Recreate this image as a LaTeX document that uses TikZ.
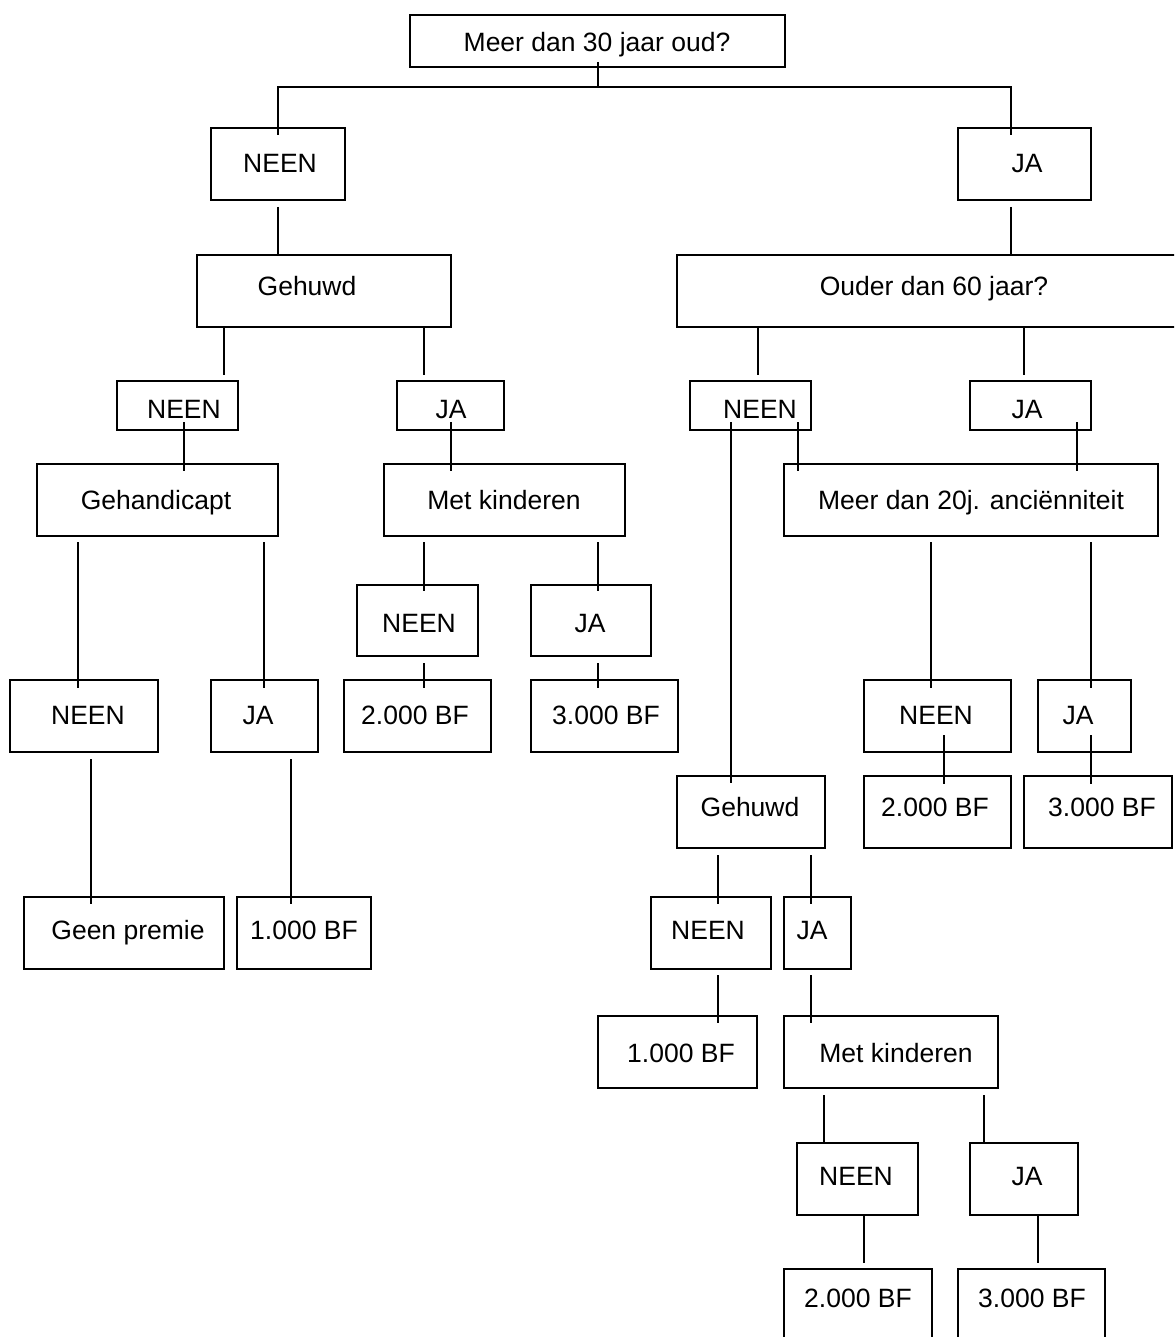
\documentclass[tikz,border=0pt]{standalone}
\usepackage{fontspec}
\setmainfont{Liberation Sans}
\usetikzlibrary{calc}
\tikzset{
  box/.style={draw=black, line width=2pt, rectangle, inner sep=0pt, outer sep=0pt},
  lbl/.style={anchor=base, inner sep=0pt, text=black, font=\fontsize{26.5}{30}\selectfont},
  conn/.style={draw=black, line width=1.8pt}
}
% box: name, x1, y1, x2, y2, text x, text y (visual middle), text
\newcommand\bx[8]{%
  \node[box, minimum width={#4-#2}, minimum height={#5-#3}] (#1) at ({(#2+#4)/2},{(#3+#5)/2}) {};
  \node[lbl] (#1t) at (#6,{#7+9.5}) {#8};}
% connector: from node, to node, x, offset below from.south, offset below to.north
\newcommand\lnk[5]{%
  \draw[conn] ($(#1.south -| #3,0)+(0,#4)$) -- ($(#2.north -| #3,0)+(0,#5)$);}
\begin{document}
\begin{tikzpicture}[x=1pt,y=-1pt]
\useasboundingbox (0,0) rectangle (1174,1337);
\fill[white] (0,0) rectangle (1174,1337);
\clip (0,0) rectangle (1174,1337);

% boxes
\bx{top}{410}{15}{785}{67}{597}{42}{Meer dan 30 jaar oud?}
\bx{nA}{211}{128}{345}{200}{280}{163}{NEEN}
\bx{jA}{958}{128}{1091}{200}{1027}{163}{JA}
\bx{gL}{197}{255}{451}{327}{307}{286}{Gehuwd}
\bx{oud}{677}{255}{1200}{327}{934}{286}{Ouder dan 60 jaar?}
\bx{nB}{117}{381}{238}{430}{184}{409}{NEEN}
\bx{jB}{397}{381}{504}{430}{451}{409}{JA}
\bx{nC}{690}{381}{811}{430}{760}{409}{NEEN}
\bx{jC}{970}{381}{1091}{430}{1027}{409}{JA}
\bx{hand}{37}{464}{278}{536}{156}{500}{Gehandicapt}
\bx{mkL}{384}{464}{625}{536}{504}{500}{Met kinderen}
\bx{mtw}{784}{464}{1158}{536}{971}{500}{Meer dan 20j. anciënniteit}
\bx{nD}{357}{585}{478}{656}{419}{623}{NEEN}
\bx{jD}{531}{585}{651}{656}{590}{623}{JA}
\bx{nE}{10}{680}{158}{752}{88}{715}{NEEN}
\bx{jE}{211}{680}{318}{752}{258}{715}{JA}
\bx{ftwL}{344}{680}{491}{752}{415}{715}{2.000 BF}
\bx{fthL}{531}{680}{678}{752}{606}{715}{3.000 BF}
\bx{nF}{864}{680}{1011}{752}{936}{715}{NEEN}
\bx{jF}{1038}{680}{1131}{752}{1078}{715}{JA}
\bx{gR}{677}{776}{825}{848}{750}{807}{Gehuwd}
\bx{ftwR}{864}{776}{1011}{848}{935}{807}{2.000 BF}
\bx{fthR}{1024}{776}{1172}{848}{1102}{807}{3.000 BF}
\bx{geen}{24}{897}{224}{969}{128}{930}{Geen premie}
\bx{foL}{237}{897}{371}{969}{304}{930}{1.000 BF}
\bx{nG}{651}{897}{771}{969}{708}{930}{NEEN}
\bx{jG}{784}{897}{851}{969}{812}{930}{JA}
\bx{foR}{598}{1016}{757}{1088}{681}{1053}{1.000 BF}
\bx{mkR}{784}{1016}{998}{1088}{896}{1053}{Met kinderen}
\bx{nH}{797}{1143}{918}{1215}{856}{1176}{NEEN}
\bx{jH}{970}{1143}{1078}{1215}{1027}{1176}{JA}
\bx{ftwB}{784}{1269}{932}{1400}{858}{1298}{2.000 BF}
\bx{fthB}{958}{1269}{1105}{1400}{1032}{1298}{3.000 BF}

% connectors
\coordinate (hub) at (598,87);
\draw[conn] ($(top.south -| 598,0)+(0,-5)$) -- (hub);
\draw[conn] ($(nA.north -| 278,0)+(0,7)$) |- (hub) -| ($(jA.north -| 1011,0)+(0,7)$);
\lnk{nA}{gL}{278}{7}{0}
\lnk{jA}{oud}{1011}{7}{0}
\lnk{gL}{nB}{224}{1}{-6}
\lnk{gL}{jB}{424}{1}{-6}
\lnk{oud}{nC}{758}{1}{-6}
\lnk{oud}{jC}{1024}{1}{-6}
\lnk{nB}{hand}{184}{-8}{7}
\lnk{jB}{mkL}{451}{-8}{7}
\lnk{nC}{gR}{731}{-8}{7}
\lnk{nC}{mtw}{798}{-8}{7}
\lnk{jC}{mtw}{1077}{-8}{7}
\lnk{hand}{nE}{78}{6}{8}
\lnk{hand}{jE}{264}{6}{8}
\lnk{mkL}{nD}{424}{6}{6}
\lnk{mkL}{jD}{598}{6}{6}
\lnk{nD}{ftwL}{424}{7}{8}
\lnk{jD}{fthL}{598}{7}{8}
\lnk{mtw}{nF}{931}{6}{8}
\lnk{mtw}{jF}{1091}{6}{8}
\lnk{nE}{geen}{91}{7}{7}
\lnk{jE}{foL}{291}{7}{7}
\lnk{nF}{ftwR}{944}{-17}{8}
\lnk{jF}{fthR}{1091}{-17}{8}
\lnk{gR}{nG}{718}{7}{7}
\lnk{gR}{jG}{811}{7}{7}
\lnk{nG}{foR}{718}{6}{7}
\lnk{jG}{mkR}{811}{6}{7}
\lnk{mkR}{nH}{824}{7}{0}
\lnk{mkR}{jH}{984}{7}{0}
\lnk{nH}{ftwB}{864}{0}{-6}
\lnk{jH}{fthB}{1038}{0}{-6}
\end{tikzpicture}
\end{document}
